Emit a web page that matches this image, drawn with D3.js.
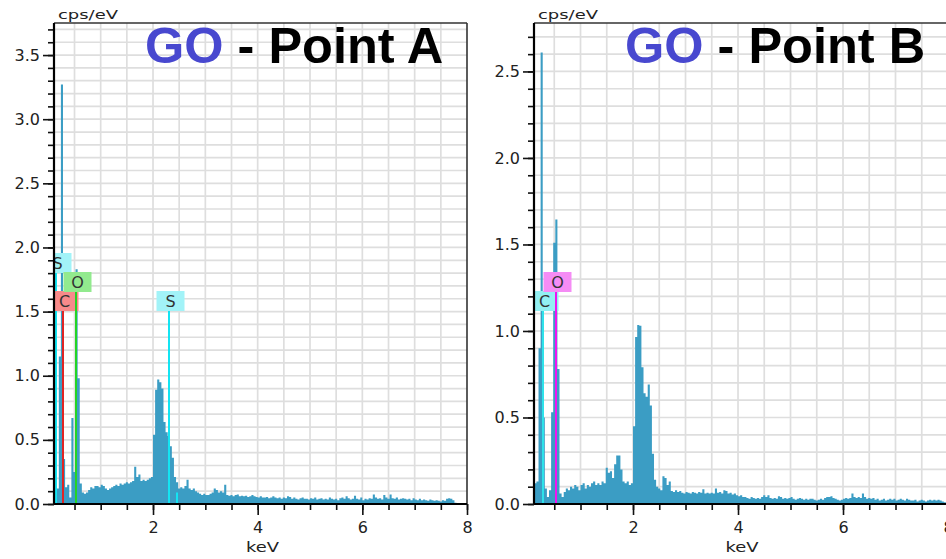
<!DOCTYPE html>
<html><head><meta charset="utf-8">
<script src="https://cdn.jsdelivr.net/npm/d3@7"></script>
<style>body{margin:0;background:#fff} svg{display:block}</style>
</head><body>
<svg id="chart" width="946" height="559"></svg>
<script>
// ---- data ----
const channelStart = 0.12;   // keV, first channel edge
const channelWidth = 0.04;   // keV per channel

const countsA = [
 0.15,0.12,1.15,3.27,0.35,0.13,0.15,0.05,0.67,0.25,
 1.83,0.98,0.16,0.09,0.08,0.09,0.11,0.13,0.12,0.14,
 0.14,0.13,0.15,0.14,0.12,0.11,0.12,0.13,0.14,0.15,
 0.14,0.16,0.15,0.16,0.17,0.16,0.17,0.18,0.29,0.21,
 0.23,0.18,0.19,0.18,0.19,0.20,0.21,0.54,0.89,0.97,
 0.95,0.90,0.64,0.56,0.53,0.45,0.36,0.21,0.17,0.12,
 0.13,0.12,0.14,0.19,0.12,0.11,0.12,0.10,0.09,0.08,
 0.07,0.08,0.07,0.07,0.08,0.09,0.12,0.11,0.09,0.10,
 0.09,0.15,0.07,0.065,0.07,0.06,0.07,0.075,0.06,0.065,
 0.06,0.065,0.055,0.06,0.07,0.06,0.055,0.05,0.06,0.05,
 0.05,0.055,0.045,0.05,0.06,0.05,0.045,0.05,0.04,0.05,
 0.045,0.06,0.055,0.04,0.05,0.04,0.035,0.045,0.05,0.04,
 0.04,0.035,0.045,0.04,0.05,0.035,0.04,0.045,0.035,0.04,
 0.035,0.05,0.04,0.035,0.04,0.03,0.045,0.05,0.04,0.06,
 0.045,0.035,0.04,0.065,0.04,0.035,0.05,0.03,0.04,0.035,
 0.045,0.04,0.075,0.05,0.04,0.045,0.035,0.07,0.05,0.04,
 0.075,0.045,0.04,0.05,0.035,0.04,0.045,0.04,0.035,0.04,
 0.03,0.045,0.035,0.03,0.04,0.03,0.035,0.03,0.025,0.035,
 0.03,0.025,0.03,0.025,0.02,0.03,0.025,0.04,0.045,0.04,
 0.03,0.01,0,0,0,0,0
];

const countsB = [
 0.12,0.13,0.90,2.61,0.50,0.09,0.04,0.08,0.53,1.51,
 1.645,0.78,0.06,0.04,0.07,0.09,0.08,0.10,0.09,0.11,
 0.10,0.08,0.11,0.12,0.09,0.11,0.10,0.12,0.13,0.11,
 0.12,0.11,0.13,0.12,0.21,0.18,0.19,0.15,0.23,0.28,
 0.28,0.20,0.13,0.12,0.13,0.11,0.12,0.45,0.965,1.035,
 1.03,0.79,0.64,0.62,0.69,0.57,0.29,0.14,0.10,0.09,
 0.08,0.16,0.15,0.11,0.13,0.075,0.07,0.08,0.07,0.075,
 0.065,0.06,0.07,0.065,0.06,0.07,0.065,0.06,0.07,0.065,
 0.085,0.06,0.065,0.06,0.065,0.06,0.09,0.065,0.07,0.06,
 0.08,0.075,0.06,0.065,0.055,0.06,0.05,0.045,0.05,0.04,
 0.04,0.035,0.03,0.04,0.035,0.03,0.035,0.03,0.04,0.05,
 0.04,0.05,0.035,0.03,0.035,0.03,0.045,0.04,0.03,0.035,
 0.03,0.035,0.04,0.03,0.025,0.03,0.035,0.03,0.025,0.03,
 0.025,0.03,0.03,0.025,0.02,0.025,0.03,0.025,0.035,0.04,
 0.04,0.045,0.035,0.03,0.025,0.02,0.025,0.03,0.035,0.03,
 0.035,0.06,0.04,0.035,0.04,0.035,0.06,0.04,0.03,0.035,
 0.03,0.035,0.025,0.03,0.02,0.025,0.03,0.02,0.025,0.03,
 0.025,0.03,0.02,0.025,0.03,0.025,0.02,0.03,0.025,0.02,
 0.02,0.025,0.015,0.02,0.025,0.02,0.015,0.02,0.025,0.02,
 0.025,0.02,0.025,0.02,0.015,0.01,0
];

const xMajorTicks = [2, 4, 6, 8];
const yLabelsA = [0, 0.5, 1.0, 1.5, 2.0, 2.5, 3.0, 3.5];
const yLabelsB = [0, 0.5, 1.0, 1.5, 2.0, 2.5];

const markerElementsA = ["S", "C", "O", "S"];
const markerEnergiesA = [0.149, 0.277, 0.525, 2.307];
const markerElementsB = ["C", "O"];
const markerEnergiesB = [0.277, 0.525];
const minorMarkerEnergyA = 2.464;   // S Kβ
const minorMarkerHeightA = 0.09;

const titleA = ["GO", " - Point A"];
const titleB = ["GO", " - Point B"];

// ---- layout / style ----
const svg = d3.select("#chart");
const barColor = "#3b9dc4";
const gridColor = "#dedede";
const markerStyleA = [
  {level: 2, line: "#14e4f2", bg: "#a2f3f8"},
  {level: 0, line: "#e02424", bg: "#f78a8a"},
  {level: 1, line: "#24d424", bg: "#92ea8e"},
  {level: 0, line: "#14e4f2", bg: "#a2f3f8"}
];
const markerStyleB = [
  {level: 0, line: "#2ee2ea", bg: "#92f0f2"},
  {level: 1, line: "#f014f0", bg: "#f58cf5"}
];
const levelTop = [291, 272, 253];
const boxH = 20, boxW = 28;

function drawPanel(cfg) {
  const g = svg.append("g");
  const x = d3.scaleLinear().domain(cfg.xDomain).range([cfg.left, cfg.right]);
  const y = d3.scaleLinear().domain([0, cfg.yMax]).range([cfg.bottom, cfg.top]);
  const clipId = "clip" + cfg.id;
  svg.append("clipPath").attr("id", clipId).append("rect")
    .attr("x", cfg.left).attr("y", cfg.top)
    .attr("width", cfg.right - cfg.left).attr("height", cfg.bottom - cfg.top);

  const inner = g.append("g").attr("clip-path", `url(#${clipId})`);
  // grid
  const xGrid = d3.range(1, 16).map(i => i * 0.5);
  const yGrid = d3.range(1, Math.floor(cfg.yMax * 10) + 1).map(i => i / 10);
  inner.selectAll(".vg").data(xGrid).join("line")
    .attr("x1", d => x(d)).attr("x2", d => x(d))
    .attr("y1", cfg.top).attr("y2", cfg.bottom)
    .attr("stroke", gridColor).attr("stroke-width", 1.7);
  inner.selectAll(".hg").data(yGrid).join("line")
    .attr("x1", cfg.left).attr("x2", cfg.right)
    .attr("y1", d => y(d)).attr("y2", d => y(d))
    .attr("stroke", gridColor).attr("stroke-width", 1.7);

  // spectrum
  const pts = cfg.counts.map((v, i) => ({e: channelStart + i * channelWidth, v}));
  pts.push({e: channelStart + cfg.counts.length * channelWidth, v: cfg.counts[cfg.counts.length - 1]});
  const area = d3.area().x(d => x(d.e)).y0(y(0)).y1(d => y(d.v)).curve(d3.curveStepAfter);
  inner.append("path").datum(pts).attr("d", area).attr("fill", barColor);

  // markers
  cfg.elements.forEach((el, i) => {
    const st = cfg.styles[i];
    const cx = Math.round(x(cfg.energies[i]));
    const top = levelTop[st.level];
    inner.append("line").attr("x1", cx).attr("x2", cx)
      .attr("y1", top + boxH).attr("y2", y(0))
      .attr("stroke", st.line).attr("stroke-width", 2);
    inner.append("rect").attr("x", cx + 1.5 - boxW / 2).attr("y", top)
      .attr("width", boxW).attr("height", boxH).attr("fill", st.bg);
    inner.append("text").attr("x", cx + 1.5).attr("y", top + 16)
      .attr("text-anchor", "middle").attr("font-family", "DejaVu Sans")
      .attr("font-size", 16).attr("fill", "#333").text(el);
  });
  if (cfg.minor) {
    const mx = Math.round(x(cfg.minor.e));
    inner.append("line").attr("x1", mx).attr("x2", mx)
      .attr("y1", y(cfg.minor.h)).attr("y2", y(0))
      .attr("stroke", "#14e4f2").attr("stroke-width", 2);
  }

  // title
  const t = g.append("text").attr("x", cfg.titleX).attr("y", 63)
    .attr("font-family", "Liberation Sans, Arial, sans-serif")
    .attr("font-weight", "bold").attr("font-size", 50.5);
  t.append("tspan").attr("fill", "#4848cf").text(cfg.title[0]);
  t.append("tspan").attr("fill", "#000").attr("xml:space", "preserve").text(cfg.title[1]);

  // frame (top / right)
  g.append("line").attr("x1", cfg.left).attr("x2", cfg.right).attr("y1", cfg.top).attr("y2", cfg.top)
    .attr("stroke", "#333").attr("stroke-width", 1.6);
  if (cfg.rightBorder) {
    g.append("line").attr("x1", cfg.right).attr("x2", cfg.right).attr("y1", cfg.top).attr("y2", cfg.bottom)
      .attr("stroke", "#333").attr("stroke-width", 1.6);
  }

  // y axis minor ticks
  const yMinor = d3.range(0, Math.floor(cfg.yMax * 10) + 1).map(i => i / 10);
  const yMinorAxis = d3.axisLeft(y).tickValues(yMinor).tickSize(6).tickFormat("").tickSizeOuter(0);
  const gy1 = g.append("g").attr("transform", `translate(${cfg.left},0)`).call(yMinorAxis);
  gy1.select(".domain").remove();
  gy1.selectAll("line").attr("stroke", "#111").attr("stroke-width", 1.6);
  const yMajorAxis = d3.axisLeft(y).tickValues(cfg.yLabels).tickSize(11).tickPadding(3)
    .tickFormat(d3.format(".1f")).tickSizeOuter(0);
  const gy2 = g.append("g").attr("transform", `translate(${cfg.left},0)`).call(yMajorAxis);
  gy2.select(".domain").attr("stroke", "#000").attr("stroke-width", 2.2)
    .attr("d", `M0,${cfg.top}V${cfg.bottom}`);
  gy2.selectAll("line").attr("stroke", "#111").attr("stroke-width", 1.6);
  gy2.selectAll("text").attr("font-family", "DejaVu Sans").attr("font-size", 16).attr("fill", "#222");

  // x axis
  const xMinor = d3.range(1, 17).map(i => i * 0.5);
  const xMinorAxis = d3.axisBottom(x).tickValues(xMinor).tickSize(6).tickFormat("").tickSizeOuter(0);
  const gx1 = g.append("g").attr("transform", `translate(0,${cfg.bottom})`).call(xMinorAxis);
  gx1.select(".domain").remove();
  gx1.selectAll("line").attr("stroke", "#111").attr("stroke-width", 1.6);
  const xMajorAxis = d3.axisBottom(x).tickValues(xMajorTicks).tickSize(11).tickPadding(7)
    .tickFormat(d3.format("d")).tickSizeOuter(0);
  const gx2 = g.append("g").attr("transform", `translate(0,${cfg.bottom})`).call(xMajorAxis);
  gx2.select(".domain").attr("stroke", "#000").attr("stroke-width", 2.2)
    .attr("d", `M${cfg.left},0H${cfg.right}`);
  gx2.selectAll("line").attr("stroke", "#111").attr("stroke-width", 1.6);
  gx2.selectAll("text").attr("font-family", "DejaVu Sans").attr("font-size", 16).attr("fill", "#222");

  // axis titles
  g.append("text").attr("x", cfg.left + 4).attr("y", 19)
    .attr("font-family", "DejaVu Sans").attr("font-size", 13).attr("fill", "#222")
    .attr("textLength", 60).attr("lengthAdjust", "spacingAndGlyphs").text("cps/eV");
  g.append("text").attr("x", (cfg.left + Math.min(cfg.right, 946)) / 2 + 2).attr("y", 552)
    .attr("text-anchor", "middle")
    .attr("font-family", "DejaVu Sans").attr("font-size", 14).attr("fill", "#222")
    .attr("textLength", 33).attr("lengthAdjust", "spacingAndGlyphs").text("keV");
}

drawPanel({id: "A", left: 54, right: 467, top: 23, bottom: 504, xDomain: [0.108, 8], yMax: 3.75,
  counts: countsA, yLabels: yLabelsA, elements: markerElementsA, energies: markerEnergiesA,
  styles: markerStyleA, minor: {e: minorMarkerEnergyA, h: minorMarkerHeightA},
  title: titleA, titleX: 145, rightBorder: true});
drawPanel({id: "B", left: 534, right: 948, top: 23, bottom: 504, xDomain: [0.114, 8], yMax: 2.78,
  counts: countsB, yLabels: yLabelsB, elements: markerElementsB, energies: markerEnergiesB,
  styles: markerStyleB, minor: null,
  title: titleB, titleX: 625, rightBorder: false});
</script>
</body></html>
